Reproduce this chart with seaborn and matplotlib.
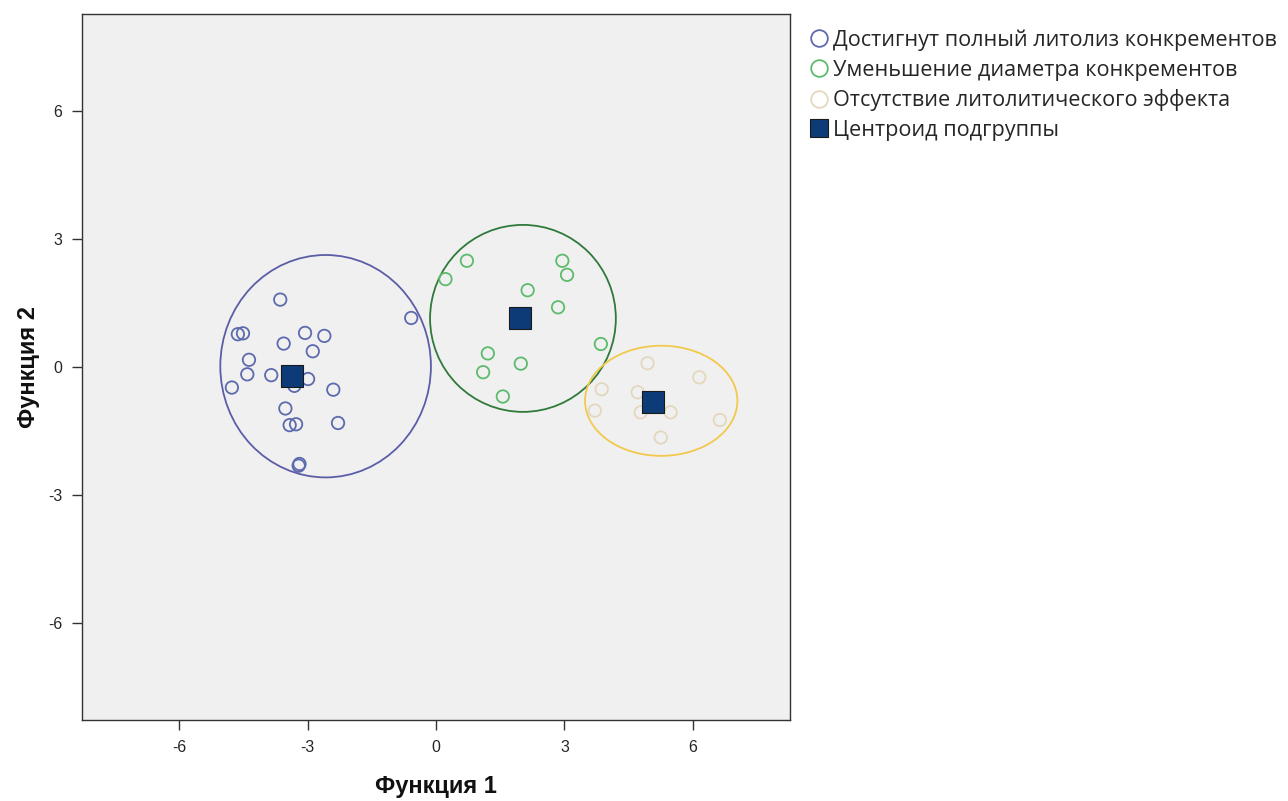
import numpy as np
import pandas as pd
import matplotlib
matplotlib.use("Agg")
import matplotlib.pyplot as plt
import seaborn as sns
from matplotlib.patches import Ellipse
from matplotlib.lines import Line2D

# ---------------- data ----------------
groups = ["Достигнут полный литолиз конкрементов",
          "Уменьшение диаметра конкрементов",
          "Отсутствие литолитического эффекта"]
centroid_label = "Центроид подгруппы"

g1_x = [-3.64, -0.58, -4.63, -4.51, -3.06, -2.61, -3.56, -2.88, -4.37, -4.41,
        -3.85, -2.99, -3.31, -4.77, -2.40, -3.52, -3.42, -3.27, -2.29, -3.19, -3.21]
g1_y = [1.58, 1.15, 0.77, 0.79, 0.80, 0.73, 0.55, 0.37, 0.17, -0.17,
        -0.19, -0.28, -0.44, -0.48, -0.53, -0.97, -1.36, -1.34, -1.31, -2.27, -2.31]

g2_x = [0.72, 0.22, 2.95, 3.06, 2.14, 2.85, 3.85, 1.21, 1.98, 1.10, 1.56]
g2_y = [2.49, 2.06, 2.49, 2.16, 1.80, 1.40, 0.54, 0.32, 0.08, -0.12, -0.69]

g3_x = [4.94, 6.15, 3.87, 4.71, 3.71, 4.78, 5.48, 6.63, 5.25]
g3_y = [0.09, -0.24, -0.52, -0.59, -1.02, -1.06, -1.06, -1.24, -1.65]

centroid_x = [-3.36, 1.97, 5.06]
centroid_y = [-0.22, 1.14, -0.81]

ellipse_cx = [-2.58, 2.03, 5.26]
ellipse_cy = [0.02, 1.14, -0.79]
ellipse_w = [4.92, 4.34, 3.56]
ellipse_h = [5.21, 4.38, 2.58]

ticks = [-6, -3, 0, 3, 6]

# ---------------- style ----------------
point_colors = ["#5d6aad", "#5dbb6c", "#e3d8bd"]
ellipse_colors = ["#5b5ea6", "#2f7a3a", "#f2c94c"]
centroid_color = "#0c3b78"

sns.set_style("white")
plt.rcParams["font.family"] = ["Liberation Sans", "DejaVu Sans"]

fig = plt.figure(figsize=(12.88, 8.01), dpi=100)
ax = fig.add_axes([0.0637, 0.101, 0.5497, 0.8815])
ax.set_facecolor("#f0f0f0")

xs = [g1_x, g2_x, g3_x]
ys = [g1_y, g2_y, g3_y]
for i, g in enumerate(groups):
    df = pd.DataFrame({"x": xs[i], "y": ys[i]})
    sns.scatterplot(data=df, x="x", y="y", ax=ax, marker="o", s=80,
                    color=point_colors[i], facecolor="none",
                    edgecolor=point_colors[i], linewidth=1.3, zorder=3)
    ax.add_patch(Ellipse((ellipse_cx[i], ellipse_cy[i]), ellipse_w[i], ellipse_h[i],
                         fill=False, edgecolor=ellipse_colors[i], linewidth=1.3, zorder=2))

cdf = pd.DataFrame({"x": centroid_x, "y": centroid_y})
sns.scatterplot(data=cdf, x="x", y="y", ax=ax, marker="s", s=240,
                color=centroid_color, edgecolor="#1a1a1a", linewidth=0.8, zorder=4)

ax.set_xlim(-8.27, 8.27)
ax.set_ylim(-8.27, 8.27)
ax.set_xticks(ticks)
ax.set_yticks(ticks)
ax.set_xticklabels([str(t) for t in ticks], fontsize=11.5)
ax.set_yticklabels([str(t) for t in ticks], fontsize=11.5)
ax.tick_params(axis="both", direction="out", length=7, width=1, color="#333333",
               bottom=True, left=True, top=False, right=False, pad=7)
for sp in ax.spines.values():
    sp.set_color("#333333")
    sp.set_linewidth(1)

ax.set_xlabel("Функция 1", fontsize=17, fontweight="bold", labelpad=15, color="#111111")
ax.set_ylabel("Функция 2", fontsize=17, fontweight="bold", labelpad=6, color="#111111")

handles = [Line2D([], [], linestyle="none", marker="o", markersize=12,
                  markerfacecolor="none", markeredgecolor=point_colors[i],
                  markeredgewidth=1.3) for i in range(3)]
handles.append(Line2D([], [], linestyle="none", marker="s", markersize=12.5,
                      markerfacecolor=centroid_color, markeredgecolor="#1a1a1a",
                      markeredgewidth=0.8))
labels = groups + [centroid_label]
leg = fig.legend(handles, labels, loc="upper left", bbox_to_anchor=(0.622, 0.974),
                 frameon=False, prop={"family": ["Open Sans", "DejaVu Sans"], "size": 15.6},
                 handletextpad=0.22, labelspacing=0.4, borderaxespad=0, handlelength=0.85)

fig.savefig("out.png", dpi=100)
